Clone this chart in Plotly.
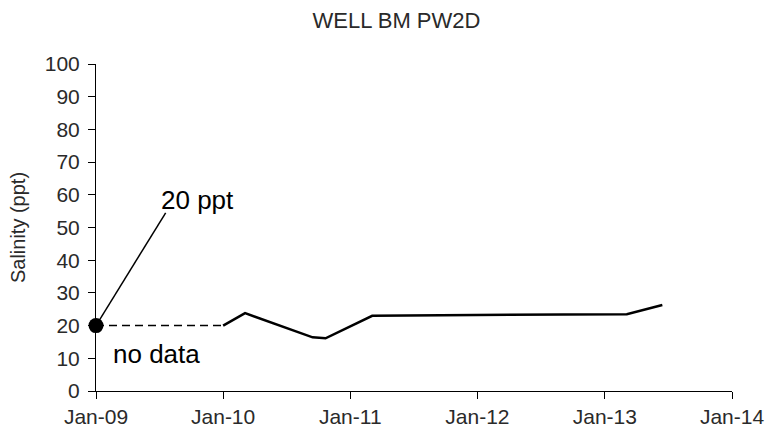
import plotly.graph_objects as go

# Salinity record for well BM PW2D
dates = ["2010-01-01", "2010-03-05", "2010-09-15", "2010-10-22", "2011-03-05",
         "2011-09-05", "2012-03-05", "2012-09-05", "2013-03-05", "2013-06-15"]
salinity = [20.0, 23.8, 16.4, 16.1, 23.0, 23.2, 23.4, 23.4, 23.5, 26.3]

# Single early reading, with a gap in the record until the next sample
first_date = "2009-01-01"
first_value = 20
gap_end = "2010-01-01"

# Leader line from the early reading to its label
label_date = "2009-07-20"
label_value = 54.5

x_ticks = ["2009-01-01", "2010-01-01", "2011-01-01", "2012-01-01", "2013-01-01", "2014-01-01"]
x_tick_text = ["Jan-09", "Jan-10", "Jan-11", "Jan-12", "Jan-13", "Jan-14"]
y_ticks = list(range(0, 101, 10))

font_family = "Liberation Sans, Arial, sans-serif"
text_color = "#2a2a2a"

fig = go.Figure()

# dashed "no data" span
fig.add_trace(go.Scatter(
    x=[first_date, gap_end], y=[first_value, first_value],
    mode="lines", line=dict(color="black", width=1.5, dash="8px,5px"),
    hoverinfo="skip", showlegend=False, cliponaxis=False))

# leader line
fig.add_trace(go.Scatter(
    x=[first_date, label_date], y=[first_value, label_value],
    mode="lines", line=dict(color="black", width=1.5),
    hoverinfo="skip", showlegend=False, cliponaxis=False))

# measured series
fig.add_trace(go.Scatter(
    x=dates, y=salinity, mode="lines",
    line=dict(color="black", width=2.5),
    showlegend=False))

# early reading marker
fig.add_trace(go.Scatter(
    x=[first_date], y=[first_value], mode="markers",
    marker=dict(color="black", size=15),
    showlegend=False, cliponaxis=False))

fig.add_annotation(x=label_date, y=label_value, text=f"{first_value} ppt",
                   showarrow=False, xanchor="left", yanchor="bottom",
                   xshift=-7, yshift=-4,
                   font=dict(family=font_family, size=26, color="black"))
fig.add_annotation(x=first_date, y=first_value, text="no data",
                   showarrow=False, xanchor="left", yanchor="top",
                   xshift=15, yshift=-11,
                   font=dict(family=font_family, size=26, color="black"))

fig.update_layout(
    width=766, height=433,
    margin=dict(l=96, r=34, t=64, b=42, autoexpand=False),
    paper_bgcolor="white", plot_bgcolor="white",
    title=dict(text="WELL BM PW2D", x=0.5176, xanchor="center", y=0.953, yanchor="middle",
               font=dict(family=font_family, size=22, color=text_color)),
    font=dict(family=font_family, color=text_color),
)

fig.update_xaxes(
    range=["2009-01-01", "2014-01-01"],
    tickvals=x_ticks, ticktext=x_tick_text,
    ticks="outside", ticklen=7, tickcolor="black", tickwidth=1,
    showline=True, linecolor="black", linewidth=1,
    showgrid=False, zeroline=False, automargin=False,
    tickfont=dict(family=font_family, size=21, color=text_color),
)
fig.update_yaxes(
    range=[0, 100], tickvals=y_ticks,
    ticks="outside", ticklen=7, tickcolor="black", tickwidth=1,
    showline=True, linecolor="black", linewidth=1,
    showgrid=False, zeroline=False, automargin=False,
    ticklabelstandoff=4,
    tickfont=dict(family=font_family, size=21, color=text_color),
    title=dict(text="Salinity (ppt)", standoff=13,
               font=dict(family=font_family, size=20, color=text_color)),
)

fig.write_html("out.html")
